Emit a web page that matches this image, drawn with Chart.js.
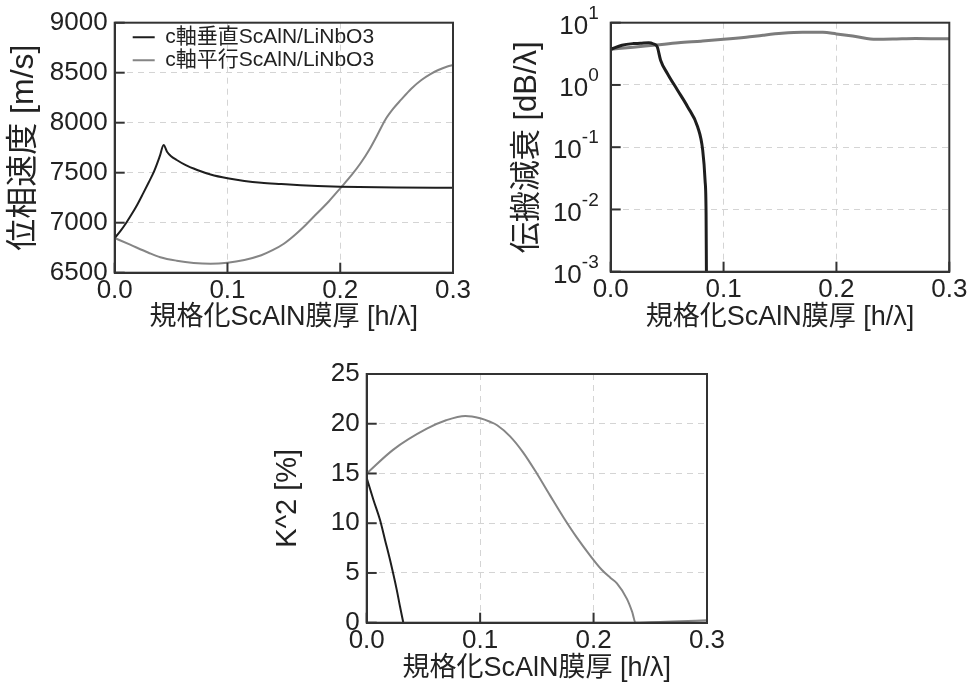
<!DOCTYPE html>
<html>
<head>
<meta charset="utf-8">
<script src="https://cdn.jsdelivr.net/npm/chart.js@4.4.1/dist/chart.umd.min.js"></script>
<style>
  body { margin: 0; background: #fff; width: 970px; height: 686px; position: relative; overflow: hidden; }
  canvas { position: absolute; }
  #velChart { left: 0; top: 0; }
  #lossChart { left: 505px; top: 0; }
  #k2Chart { left: 270px; top: 350px; }
</style>
</head>
<body>
<canvas id="velChart" width="490" height="345"></canvas>
<canvas id="lossChart" width="465" height="345"></canvas>
<canvas id="k2Chart" width="470" height="336"></canvas>
<script>
const seriesNames = ["c軸垂直ScAlN/LiNbO3", "c軸平行ScAlN/LiNbO3"];
const xTitle = "規格化ScAlN膜厚 [h/λ]";
const xTicks = [0, 0.1, 0.2, 0.3];
const velTicks = [6500, 7000, 7500, 8000, 8500, 9000];
const lossExponents = [-3, -2, -1, 0, 1];
const k2Ticks = [0, 5, 10, 15, 20, 25];

// phase velocity [m/s]
const velPerpH = [0, 0.005, 0.01, 0.015, 0.02, 0.025, 0.03, 0.035, 0.04, 0.0434, 0.0464, 0.05, 0.055, 0.063, 0.0732, 0.085, 0.1, 0.115, 0.13, 0.1477, 0.165, 0.18, 0.2, 0.25, 0.3];
const velPerp = [6847, 6916, 6995, 7084, 7180, 7288, 7400, 7515, 7665, 7777, 7710, 7665, 7627, 7575, 7527, 7482, 7444, 7418, 7400, 7387, 7375, 7367, 7360, 7352, 7350];
const velParaH = [0, 0.0137, 0.03, 0.0404, 0.055, 0.07, 0.085, 0.1, 0.115, 0.13, 0.14, 0.15, 0.16, 0.17, 0.18, 0.19, 0.2, 0.21, 0.218, 0.226, 0.233, 0.24, 0.247, 0.254, 0.263, 0.272, 0.28, 0.287, 0.295, 0.3];
const velPara = [6847, 6780, 6700, 6655, 6620, 6598, 6590, 6600, 6628, 6675, 6725, 6790, 6880, 6985, 7100, 7215, 7344, 7475, 7594, 7735, 7880, 8030, 8140, 8230, 8340, 8427, 8485, 8527, 8562, 8577];

// propagation loss [dB/λ]
const lossPerpH = [0, 0.01, 0.02, 0.0263, 0.0337, 0.038, 0.0412, 0.0442, 0.0502, 0.0591, 0.0681, 0.077, 0.0815, 0.0836, 0.0845, 0.0848];
const lossPerp = [3.73, 4.35, 4.62, 4.67, 4.77, 4.55, 4.11, 2.5, 1.53, 0.83, 0.447, 0.213, 0.0898, 0.0295, 0.0087, 0.001];
const lossParaH = [0, 0.02, 0.04, 0.06, 0.08, 0.1, 0.12, 0.135, 0.1517, 0.17, 0.188, 0.2, 0.217, 0.235, 0.25, 0.27, 0.3];
const lossPara = [3.73, 4.05, 4.38, 4.75, 5.05, 5.4, 5.85, 6.3, 6.75, 7.0, 7.0, 6.6, 6.0, 5.4, 5.45, 5.6, 5.5];

// coupling factor K^2 [%]
const k2PerpH = [0, 0.0059, 0.0117, 0.0162, 0.0206, 0.0265, 0.0294, 0.0323];
const k2Perp = [14.54, 12.36, 10.34, 8.3, 6.3, 3.3, 1.6, 0];
const k2ParaH = [0, 0.0235, 0.053, 0.07, 0.087, 0.1, 0.1087, 0.115, 0.1264, 0.138, 0.15, 0.1616, 0.1734, 0.185, 0.197, 0.2074, 0.215, 0.2206, 0.2294, 0.234, 0.237, 0.25, 0.27, 0.3];
const k2Para = [15.0, 17.4, 19.5, 20.35, 20.78, 20.55, 20.2, 19.85, 18.73, 17.1, 15.0, 12.8, 10.6, 8.6, 6.75, 5.3, 4.5, 3.95, 2.4, 1.1, 0, 0.05, 0.12, 0.25];

Chart.defaults.font.family = '"Liberation Sans", "Noto Sans CJK JP", sans-serif';
Chart.defaults.color = "#222";

const BLACK = "#1e1e1e";
const GRAY = "#858585";

const pts = (xs, ys) => xs.map((x, i) => ({ x: x, y: ys[i] }));

const line = (label, xs, ys, color, width) => ({
  label: label,
  data: pts(xs, ys),
  borderColor: color,
  backgroundColor: color,
  borderWidth: width,
  pointRadius: 0,
  cubicInterpolationMode: "monotone",
  fill: false,
});

const gridStyle = { color: "#d4d4d4", lineWidth: 1, drawTicks: false };
const borderStyle = { color: "#333", width: 2, dash: [6, 5] };

const xAxis = (height, padBottom) => ({
  type: "linear",
  min: 0,
  max: 0.3,
  afterBuildTicks: (axis) => {
    axis.ticks = xTicks.map((v) => ({ value: v }));
  },
  afterFit: (axis) => {
    axis.height = height;
    axis.paddingLeft = 0;
    axis.paddingRight = 0;
  },
  ticks: { padding: 3, font: { size: 26 }, maxRotation: 0, autoSkip: false, callback: (v) => v.toFixed(1) },
  grid: gridStyle,
  border: borderStyle,
  title: { display: true, text: xTitle, font: { size: 27 }, padding: { top: 0, bottom: padBottom } },
});

const yAxis = (width, ticks, title, size, padTop) => ({
  type: "linear",
  min: ticks[0],
  max: ticks[ticks.length - 1],
  afterBuildTicks: (axis) => {
    axis.ticks = ticks.map((v) => ({ value: v }));
  },
  afterFit: (axis) => {
    axis.width = width;
    axis.paddingTop = 0;
    axis.paddingBottom = 0;
  },
  ticks: { padding: 7, font: { size: 26 }, callback: (v) => String(v) },
  grid: gridStyle,
  border: borderStyle,
  title: { display: true, text: title, font: { size: size }, padding: { top: padTop, bottom: 0 } },
});

// box around the plot area, with short tick marks pointing inward
const frame = {
  id: "frame",
  afterDraw(chart) {
    const ctx = chart.ctx;
    const a = chart.chartArea;
    const sx = chart.scales.x;
    const sy = chart.scales.y;
    ctx.save();
    ctx.setLineDash([]);
    ctx.strokeStyle = "#333";
    ctx.lineWidth = 2;
    ctx.strokeRect(a.left, a.top, a.right - a.left, a.bottom - a.top);
    xTicks.forEach((v) => {
      const px = sx.getPixelForValue(v);
      ctx.beginPath();
      ctx.moveTo(px, a.bottom);
      ctx.lineTo(px, a.bottom - 10);
      ctx.stroke();
    });
    sy.ticks.forEach((t) => {
      const py = sy.getPixelForValue(t.value);
      ctx.beginPath();
      ctx.moveTo(a.left, py);
      ctx.lineTo(a.left + 10, py);
      ctx.stroke();
    });
    ctx.restore();
  },
};

// legend sits in the upper left corner of the plot
const legendInside = {
  id: "legendInside",
  beforeDraw(chart) {
    const a = chart.chartArea;
    const lg = chart.legend;
    lg.left = a.left + 16;
    lg.top = a.top + 2;
    lg.right = a.right;
    lg.bottom = a.bottom;
  },
};

// 10^n labels for the log axis
const powerLabels = {
  id: "powerLabels",
  afterDraw(chart) {
    const { ctx, chartArea } = chart;
    const y = chart.scales.y;
    const right = chartArea.left - 12;
    ctx.save();
    ctx.fillStyle = "#222";
    ctx.textBaseline = "middle";
    lossExponents.forEach((e) => {
      const py = y.getPixelForValue(Math.pow(10, e));
      const sup = String(e);
      ctx.font = '19px "Liberation Sans"';
      const w = ctx.measureText(sup).width;
      ctx.textAlign = "left";
      ctx.fillText(sup, right - w, py - 9);
      ctx.font = '26px "Liberation Sans"';
      ctx.textAlign = "right";
      ctx.fillText("10", right - w, py + 4);
    });
    ctx.restore();
  },
};

const velChart = new Chart(document.getElementById("velChart"), {
  type: "line",
  data: {
    datasets: [
      line(seriesNames[0], velPerpH, velPerp, BLACK, 2),
      line(seriesNames[1], velParaH, velPara, GRAY, 2),
    ],
  },
  options: {
    responsive: false,
    animation: false,
    layout: { padding: { left: 0, top: 22.7, right: 37, bottom: 0 } },
    scales: {
      x: xAxis(72.3, 11),
      y: yAxis(114.7, velTicks, "位相速度 [m/s]", 32, 5),
    },
    plugins: {
      legend: {
        position: "chartArea",
        align: "start",
        labels: {
          usePointStyle: true,
          pointStyle: "line",
          pointStyleWidth: 22,
          padding: 2,
          color: "#222",
          font: { size: 21 },
        },
      },
      tooltip: { enabled: false },
    },
  },
  plugins: [frame, legendInside],
});

const lossChart = new Chart(document.getElementById("lossChart"), {
  type: "line",
  data: {
    datasets: [
      line(seriesNames[0], lossPerpH, lossPerp, BLACK, 3),
      line(seriesNames[1], lossParaH, lossPara, "#7c7c7c", 3),
    ],
  },
  options: {
    responsive: false,
    animation: false,
    layout: { padding: { left: 0, top: 22.7, right: 20.7, bottom: 0 } },
    scales: {
      x: xAxis(73.3, 11),
      y: {
        type: "logarithmic",
        min: 1e-3,
        max: 10,
        afterBuildTicks: (axis) => {
          axis.ticks = lossExponents.map((e) => ({ value: Math.pow(10, e) }));
        },
        afterFit: (axis) => {
          axis.width = 105.7;
          axis.paddingTop = 0;
          axis.paddingBottom = 0;
        },
        ticks: { padding: 7, font: { size: 26 }, callback: () => "" },
        grid: gridStyle,
        border: borderStyle,
        title: { display: true, text: "伝搬減衰 [dB/λ]", font: { size: 31 }, padding: { top: 4, bottom: 0 } },
      },
    },
    plugins: {
      legend: { display: false },
      tooltip: { enabled: false },
    },
  },
  plugins: [frame, powerLabels],
});

const k2Chart = new Chart(document.getElementById("k2Chart"), {
  type: "line",
  data: {
    datasets: [
      line(seriesNames[0], k2PerpH, k2Perp, BLACK, 2),
      line(seriesNames[1], k2ParaH, k2Para, GRAY, 2),
    ],
  },
  options: {
    responsive: false,
    animation: false,
    layout: { padding: { left: 0, top: 24, right: 33, bottom: 0 } },
    scales: {
      x: xAxis(63.3, 1),
      y: yAxis(96.7, k2Ticks, "K^2 [%]", 29, 1),
    },
    plugins: {
      legend: { display: false },
      tooltip: { enabled: false },
    },
  },
  plugins: [frame],
});
</script>
</body>
</html>
